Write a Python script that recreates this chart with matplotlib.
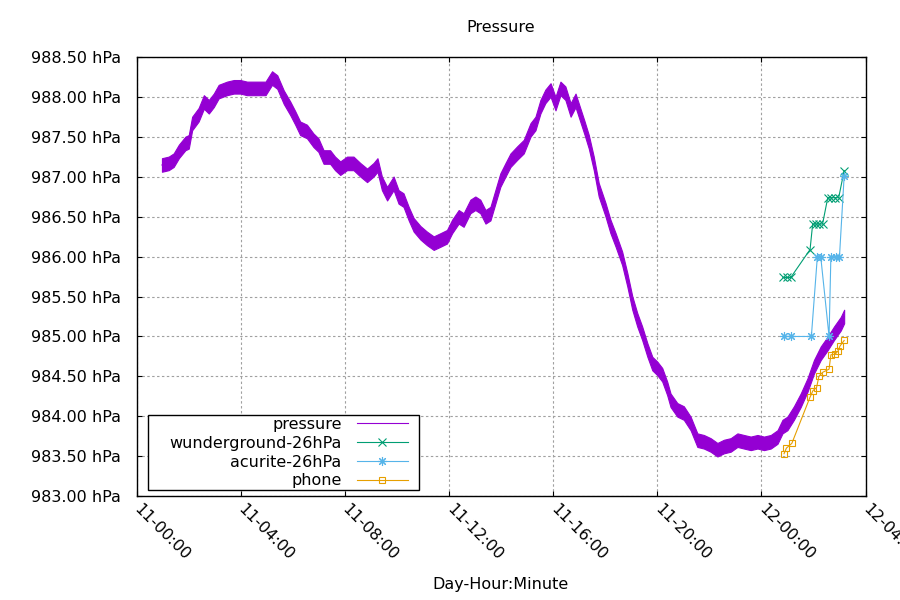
import numpy as np
import matplotlib
matplotlib.use("Agg")
import matplotlib.pyplot as plt
from matplotlib.lines import Line2D
from matplotlib.patches import Rectangle

# ---------------- data (hours since 11-00:00, hPa) ----------------
pressure_hours = [0.97, 1.23, 1.42, 1.62, 1.87, 2.0, 2.13, 2.38, 2.58, 2.77, 2.96, 3.15,
                  3.47, 3.73, 3.98, 4.24, 4.63, 4.95, 5.2, 5.4, 5.65, 5.9, 6.09, 6.28,
                  6.54, 6.79, 6.98, 7.18, 7.43, 7.62, 7.82, 8.08, 8.33, 8.59, 8.85, 9.1,
                  9.25, 9.42, 9.62, 9.87, 10.06, 10.25, 10.45, 10.64, 10.9, 11.15, 11.41,
                  11.67, 11.92, 12.12, 12.37, 12.56, 12.82, 13.01, 13.2, 13.4, 13.59,
                  13.78, 13.97, 14.17, 14.36, 14.62, 14.87, 15.13, 15.32, 15.51, 15.7,
                  15.9, 16.09, 16.28, 16.47, 16.67, 16.86, 17.02, 17.2, 17.37, 17.56,
                  17.75, 18.01, 18.2, 18.4, 18.65, 18.85, 19.04, 19.23, 19.42, 19.62,
                  19.81, 20.0, 20.19, 20.38, 20.51, 20.77, 21.02, 21.28, 21.54, 21.79,
                  22.05, 22.31, 22.56, 22.82, 23.08, 23.33, 23.59, 23.85, 24.1, 24.36,
                  24.62, 24.81, 25.0, 25.25, 25.51, 25.77, 26.02, 26.28, 26.54, 26.79,
                  27.05, 27.18]
pressure_mid = [987.15, 987.17, 987.21, 987.32, 987.42, 987.44, 987.67, 987.78, 987.94,
                987.88, 987.96, 988.07, 988.11, 988.13, 988.13, 988.11, 988.11, 988.11,
                988.24, 988.19, 988.00, 987.86, 987.74, 987.61, 987.57, 987.46, 987.40,
                987.25, 987.25, 987.17, 987.11, 987.17, 987.17, 987.09, 987.02, 987.09,
                987.15, 986.92, 986.79, 986.92, 986.75, 986.71, 986.54, 986.40, 986.30,
                986.23, 986.17, 986.21, 986.25, 986.38, 986.50, 986.46, 986.63, 986.67,
                986.63, 986.50, 986.54, 986.75, 986.96, 987.09, 987.21, 987.30, 987.38,
                987.59, 987.67, 987.88, 988.01, 988.09, 987.92, 988.11, 988.05, 987.84,
                987.96, 987.80, 987.62, 987.44, 987.17, 986.84, 986.59, 986.38, 986.21,
                985.98, 985.71, 985.42, 985.21, 985.04, 984.83, 984.66, 984.60, 984.52,
                984.35, 984.20, 984.08, 984.04, 983.91, 983.70, 983.68, 983.64, 983.58,
                983.62, 983.64, 983.70, 983.68, 983.66, 983.68, 983.66, 983.68, 983.74,
                983.87, 983.91, 984.04, 984.20, 984.39, 984.62, 984.79, 984.91, 985.04,
                985.16, 985.25]
pressure_noise = 0.085   # half-height of the noisy band

wunder_hours = [24.83, 24.98, 25.13, 25.87, 25.97, 26.1, 26.22, 26.35, 26.55, 26.68,
                26.82, 26.97, 27.18]
wunder_vals = [985.74, 985.74, 985.74, 986.09, 986.41, 986.41, 986.41, 986.41, 986.74,
               986.74, 986.74, 986.74, 987.08]

acurite_hours = [24.87, 25.15, 25.92, 26.15, 26.28, 26.6, 26.67, 26.86, 27.0, 27.18]
acurite_vals = [985.0, 985.0, 985.0, 986.0, 986.0, 985.0, 986.0, 986.0, 986.0, 987.01]

phone_hours = [24.87, 24.96, 25.17, 25.87, 25.98, 26.12, 26.21, 26.35, 26.6, 26.67,
               26.84, 26.95, 27.02, 27.18]
phone_vals = [983.53, 983.60, 983.66, 984.24, 984.32, 984.36, 984.50, 984.55, 984.59,
              984.77, 984.78, 984.82, 984.88, 984.95]

xtick_hours = [0, 4, 8, 12, 16, 20, 24, 28]
xtick_labels = ["11-00:00", "11-04:00", "11-08:00", "11-12:00", "11-16:00",
                "11-20:00", "12-00:00", "12-04:00"]
ytick_vals = [983.0, 983.5, 984.0, 984.5, 985.0, 985.5, 986.0, 986.5, 987.0,
              987.5, 988.0, 988.5]

# ---------------- figure ----------------
plt.rcParams['font.family'] = ['DejaVu Sans']
FS = 11.5
plt.rcParams['font.size'] = FS

W, H = 900, 600
fig = plt.figure(figsize=(9, 6), dpi=100)
ax = fig.add_axes([136.7 / W, 1 - 496 / H, (865.5 - 136.7) / W, (496 - 57.3) / H])

purple = '#9400d3'
green = '#009e73'
blue = '#56b4e9'
orange = '#e69f00'
star = (8, 2, 0)

ph = np.array(pressure_hours)
pm = np.array(pressure_mid)
ax.fill_between(ph, pm - pressure_noise, pm + pressure_noise, color=purple, lw=0.8,
                edgecolor=purple, zorder=2)
ax.plot(ph, pm, color=purple, lw=0.8, zorder=2)

ax.plot(wunder_hours, wunder_vals, color=green, lw=0.8, marker='x', ms=5.5, mew=0.8, zorder=3)
ax.plot(acurite_hours, acurite_vals, color=blue, lw=0.8, marker=star, ms=6.5, mew=0.8, zorder=4)
ax.plot(phone_hours, phone_vals, color=orange, lw=0.8, marker='s', ms=5, mew=0.8,
        mfc='none', zorder=5)

ax.set_xlim(0, 28)
ax.set_ylim(983.0, 988.5)
ax.set_xticks(xtick_hours)
ax.set_xticklabels(xtick_labels, rotation=-45, ha='left', va='center',
                   rotation_mode='anchor')
ax.set_yticks(ytick_vals)
ax.set_yticklabels([f"{v:.2f} hPa" for v in ytick_vals])

ax.tick_params(axis='both', direction='in', length=3.6, width=0.8, top=True, right=True,
               colors='black', labelsize=FS)
ax.tick_params(axis='y', pad=11.3)
ax.tick_params(axis='x', pad=7.5)
for s in ax.spines.values():
    s.set_linewidth(1.0)
    s.set_color('black')

ax.grid(True, color='#a0a0a0', linestyle=(0, (2.2, 2.2)), linewidth=0.8)
ax.set_axisbelow(True)

fig.text(501 / W, 1 - 27 / H, "Pressure", ha='center', va='center', fontsize=FS)
fig.text(500 / W, 1 - 585 / H, "Day-Hour:Minute", ha='center', va='center', fontsize=FS)

# legend: frame drawn as a box, entries right-justified like gnuplot
box = Rectangle((148.3 / W, 1 - 490 / H), (419.3 - 148.3) / W, (490 - 415) / H,
                transform=fig.transFigure, facecolor='white', edgecolor='black',
                lw=1.0, zorder=9, clip_on=False)
ax.add_patch(box)

handles = [Line2D([], [], color=purple, lw=0.8),
           Line2D([], [], color=green, lw=0.8, marker='x', ms=5.5, mew=0.8),
           Line2D([], [], color=blue, lw=0.8, marker=star, ms=6.5, mew=0.8),
           Line2D([], [], color=orange, lw=0.8, marker='s', ms=5, mew=0.8, mfc='none')]
labels = ["pressure", "wunderground-26hPa", "acurite-26hPa", "phone"]
fpx = FS * 100 / 72
leg = ax.legend(handles, labels, loc='center right',
                bbox_to_anchor=(407.7 / W, 1 - 452.7 / H), bbox_transform=fig.transFigure,
                borderaxespad=0, markerfirst=False, numpoints=1,
                handlelength=50.4 / fpx, handletextpad=15.6 / fpx,
                labelspacing=0.24, borderpad=0.0, frameon=False, fontsize=FS)
leg.set_zorder(10)

fig.savefig("out.png", dpi=100)
